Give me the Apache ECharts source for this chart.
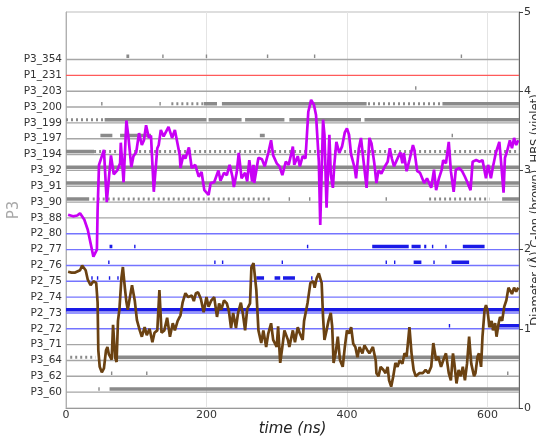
<!DOCTYPE html>
<html>
<head>
<meta charset="utf-8">
<script src="https://cdn.jsdelivr.net/npm/echarts@6/dist/echarts.min.js"></script>
<style>html,body{margin:0;padding:0;background:#fff;overflow:hidden}#c{width:536px;height:439px}</style>
</head>
<body>
<div id="c"></div>
<script>
// Residue categories, bottom (1) to top (22)
const cats = ['P3_60','P3_62','P3_64','P3_71','P2_72','P2_73','P2_74','P2_75','P2_76','P2_77','P2_80',
  'P3_88','P3_90','P3_91','P3_92','P3_194','P3_197','P3_199','P3_200','P3_203','P1_231','P3_354'];
const xTicks = [0, 200, 400, 600];
const rightTicks = [0, 1, 2, 3, 4, 5];

// Continuous contact intervals (ns), aligned with cats
const denseContacts = [
  [[46,48],[62,645]],
  [[64,66],[114,116],[628,630]],
  [[68,645]],
  [],
  [[545,547],[615,645]],
  [[0,645]],
  [],
  [[36,38],[44,46],[61,63],[73,75],[271,282],[297,305],[309,326],[349,351]],
  [[60,62],[211,213],[222,224],[307,309],[455,457],[467,469],[495,506],[523,525],[549,574]],
  [[62,66],[97,99],[343,345],[436,488],[492,505],[510,513],[521,523],[540,542],[565,596]],
  [],
  [],
  [[1,33],[317,319],[346,348],[455,457],[621,645]],
  [[0,645]],
  [[0,645]],
  [[0,40]],
  [[49,66],[77,121],[276,283],[549,551]],
  [[55,200],[203,250],[255,311],[318,420],[425,645]],
  [[50,52],[133,135],[196,215],[222,428],[536,645]],
  [[497,499]],
  [],
  [[86,90],[137,139],[199,201],[286,288],[353,355],[562,564]]
];
// Intermittent contact intervals (ns), aligned with cats
const sparseContacts = [
  [], [], [[6,42]], [], [], [], [], [], [], [], [], [],
  [[38,290],[517,603]], [], [], [[40,645]], [], [[0,55]],
  [[150,195],[430,535]], [], [], []
];

// HBS diameter (violet), [time ns, Å]
const hbs = [[3,2.44],[10,2.42],[16,2.43],[20,2.46],[26,2.38],[31,2.25],[35,2.08],[39,1.91],[44,2.0],[45,2.5],[47,3.07],[54,3.26],[58,2.6],[64,3.19],[68,2.95],[73,3.0],[77,3.09],[78,3.35],[82,2.85],[86,3.63],[89,3.41],[93,3.04],[96,3.18],[100,3.23],[104,3.47],[108,3.32],[111,3.38],[114,3.57],[118,3.41],[121,3.44],[125,2.73],[130,3.28],[132,3.32],[135,3.51],[139,3.43],[146,3.55],[151,3.41],[155,3.51],[162,3.19],[163,3.03],[167,3.19],[170,3.15],[175,3.29],[179,3.03],[184,3.07],[189,2.92],[193,2.98],[197,2.75],[203,2.69],[206,2.84],[211,2.85],[217,3.0],[220,2.87],[225,2.97],[229,2.94],[233,3.07],[237,2.92],[239,2.79],[243,2.97],[246,3.22],[250,2.9],[255,2.97],[258,2.86],[261,3.13],[265,2.86],[267,3.07],[268,2.84],[274,3.16],[279,3.14],[283,3.05],[288,3.22],[292,3.38],[295,3.19],[300,3.09],[304,3.05],[308,2.94],[313,3.11],[317,3.07],[321,3.22],[323,3.3],[325,3.07],[330,3.18],[333,3.05],[337,3.18],[341,3.15],[345,3.74],[349,3.89],[353,3.83],[356,3.70],[360,3.11],[362,2.31],[366,3.64],[368,3.45],[371,2.53],[375,3.45],[377,2.95],[380,2.78],[382,3.07],[385,3.36],[389,3.22],[393,3.3],[397,3.48],[400,3.53],[403,3.45],[406,3.2],[411,3.03],[413,2.9],[417,3.28],[420,3.41],[424,3.09],[428,2.78],[432,3.41],[435,3.34],[439,3.09],[442,2.84],[445,3.0],[449,2.96],[454,3.05],[458,3.11],[461,3.28],[464,3.15],[467,3.05],[471,3.13],[476,3.23],[479,3.09],[481,3.22],[485,2.99],[489,3.13],[494,3.32],[496,3.26],[500,2.99],[504,2.97],[510,2.84],[514,2.9],[520,2.78],[524,3.01],[527,2.75],[531,2.9],[535,3.01],[537,3.13],[541,3.09],[545,3.36],[548,2.99],[552,2.73],[555,3.01],[560,3.03],[564,2.99],[568,2.92],[571,2.86],[576,2.75],[579,3.11],[584,3.13],[589,3.11],[593,3.13],[598,2.9],[601,3.07],[605,2.9],[608,3.05],[612,3.22],[617,3.36],[620,3.05],[623,2.72],[625,3.16],[628,3.24],[632,3.38],[635,3.28],[638,3.41],[641,3.32],[644,3.38]];

// C-Ion diameter (brown), [time ns, Å]
const cIon = [[3,1.72],[8,1.71],[13,1.71],[20,1.74],[23,1.8],[25,1.8],[28,1.74],[31,1.62],[35,1.55],[39,1.6],[43,1.58],[45,1.33],[46,0.73],[48,0.52],[51,0.45],[54,0.5],[57,0.73],[59,0.77],[61,0.68],[65,0.61],[67,1.05],[70,0.64],[72,0.58],[74,1.1],[76,1.24],[79,1.65],[81,1.78],[84,1.5],[86,1.34],[88,1.24],[91,1.4],[94,1.55],[98,1.35],[101,1.11],[105,0.98],[108,0.9],[112,1.02],[115,0.92],[119,1.0],[123,0.83],[126,0.95],[130,0.98],[133,1.49],[136,0.95],[140,0.98],[144,1.14],[148,0.9],[152,1.07],[155,0.98],[159,1.1],[163,1.17],[166,1.33],[170,1.45],[174,1.4],[179,1.42],[182,1.35],[185,1.45],[188,1.46],[192,1.38],[196,1.21],[200,1.4],[203,1.28],[207,1.36],[211,1.4],[215,1.15],[218,1.32],[221,1.24],[225,1.36],[229,1.32],[232,1.22],[235,1.01],[238,1.2],[242,1.01],[245,1.2],[249,1.33],[252,1.18],[255,0.98],[258,1.25],[262,1.32],[264,1.78],[267,1.83],[271,1.49],[274,0.98],[278,0.82],[281,0.98],[285,0.77],[288,0.94],[292,1.07],[295,0.86],[300,0.77],[302,1.03],[305,0.57],[308,0.77],[311,0.98],[316,0.86],[318,0.77],[323,0.98],[326,0.83],[330,1.02],[333,0.94],[337,0.86],[339,1.1],[344,1.33],[348,1.58],[352,1.6],[354,1.52],[357,1.64],[360,1.7],[364,1.58],[366,1.15],[368,0.86],[371,0.98],[374,1.11],[377,1.2],[379,1.03],[381,0.57],[384,0.7],[387,0.9],[390,0.61],[394,0.52],[397,0.77],[400,0.98],[403,0.94],[406,1.02],[409,0.81],[412,0.77],[415,0.64],[418,0.77],[422,0.69],[425,0.79],[429,0.73],[432,0.69],[437,0.77],[441,0.6],[442,0.44],[445,0.4],[448,0.52],[452,0.48],[455,0.44],[458,0.52],[460,0.35],[463,0.27],[466,0.4],[469,0.57],[472,0.52],[475,0.6],[479,0.56],[482,0.69],[485,0.65],[489,1.02],[492,0.69],[495,0.48],[498,0.4],[503,0.44],[508,0.44],[512,0.48],[516,0.44],[520,0.52],[523,0.82],[527,0.6],[530,0.65],[534,0.52],[537,0.6],[541,0.69],[545,0.44],[548,0.35],[551,0.69],[553,0.56],[556,0.31],[559,0.48],[562,0.4],[565,0.52],[568,0.35],[571,0.56],[574,0.9],[577,0.56],[581,0.4],[583,0.44],[586,0.65],[588,0.69],[591,0.52],[593,0.9],[596,1.24],[598,1.3],[600,1.24],[603,1.02],[606,1.1],[608,0.98],[611,1.07],[613,0.9],[616,1.07],[618,1.15],[621,1.1],[624,1.28],[627,1.36],[630,1.52],[632,1.5],[635,1.44],[638,1.52],[641,1.47],[644,1.52]];

const T_MAX = 645;
const OFF = 0.2;
function baseColor(n){ return n.startsWith('P2') ? '#7474ff' : (n.startsWith('P1') ? '#ff5a5a' : '#a6a6a6'); }
function markColor(n){ return n.startsWith('P2') ? '#1a1ae6' : '#8a8a8a'; }
function segData(list, y){
  const d = [];
  list.forEach(function(iv){ d.push([iv[0], y]); d.push([iv[1], y]); d.push(null); });
  return d;
}

const series = [];
cats.forEach(function(n, i){
  const k = i + 1;
  series.push({type:'line', yAxisIndex:0, data:[[0,k],[T_MAX,k]], showSymbol:false, silent:true,
    lineStyle:{color:baseColor(n), width:1.4}, z:1});
  if (denseContacts[i].length) series.push({type:'line', yAxisIndex:0, data:segData(denseContacts[i], k+OFF),
    showSymbol:false, silent:true, connectNulls:false, lineStyle:{color:markColor(n), width:3.5}, z:2});
  if (sparseContacts[i].length) series.push({type:'line', yAxisIndex:0, data:segData(sparseContacts[i], k+OFF),
    showSymbol:false, silent:true, connectNulls:false, lineStyle:{color:markColor(n), width:3, type:[2,3]}, z:2});
});
series.push({type:'line', yAxisIndex:1, data:hbs, showSymbol:false, silent:true,
  lineStyle:{color:'#c800f5', width:2.7}, z:5});
series.push({type:'line', yAxisIndex:1, data:cIon, showSymbol:false, silent:true,
  lineStyle:{color:'#6b4212', width:2.7}, z:5});

const font = 'DejaVu Sans';
const chart = echarts.init(document.getElementById('c'), null, {renderer:'canvas'});
chart.setOption({
  animation:false,
  grid:{left:66, right:17, top:12, bottom:31, containLabel:false, outerBoundsMode:'none',
    show:true, borderColor:'#bdbdbd', borderWidth:1},
  xAxis:{type:'value', min:0, max:T_MAX, interval:200,
    axisLine:{lineStyle:{color:'#9a9a9a'}}, axisTick:{show:false},
    axisLabel:{color:'#333', fontFamily:font, fontSize:11, margin:2, showMaxLabel:false,
      formatter:function(v){ return xTicks.indexOf(v) >= 0 ? String(v) : ''; }},
    splitLine:{show:true, lineStyle:{color:'#e4e4e4', width:1}},
    name:'time (ns)', nameLocation:'middle', nameGap:14, nameMoveOverlap:false,
    nameTextStyle:{fontFamily:font, fontSize:15, fontStyle:'italic', color:'#222'}},
  yAxis:[
    {type:'value', min:0, max:25, interval:1, position:'left',
      axisLine:{show:true, lineStyle:{color:'#b0b0b0'}}, axisTick:{show:false}, splitLine:{show:false},
      axisLabel:{color:'#333', fontFamily:font, fontSize:10.5, margin:4,
        formatter:function(v){ return cats[v-1] || ''; }},
      name:'P3', nameLocation:'middle', nameGap:44, nameRotate:90, nameMoveOverlap:false,
      nameTextStyle:{fontFamily:font, fontSize:15, color:'#a8a8a8'}},
    {type:'value', min:0, max:5, interval:1, position:'right',
      axisLine:{show:true, lineStyle:{color:'#666'}}, axisTick:{show:true, length:4, lineStyle:{color:'#444'}},
      splitLine:{show:false},
      axisLabel:{color:'#333', fontFamily:font, fontSize:11, margin:5,
        formatter:function(v){ return rightTicks.indexOf(v) >= 0 ? String(v) : ''; }},
      name:'Diameter (Å) C-Ion (brown), HBS (violet)', nameLocation:'middle', nameGap:11, nameRotate:90,
      nameMoveOverlap:false,
      nameTextStyle:{fontFamily:font, fontSize:11.5, color:'#333'}}
  ],
  series:series
});
</script>
</body>
</html>
